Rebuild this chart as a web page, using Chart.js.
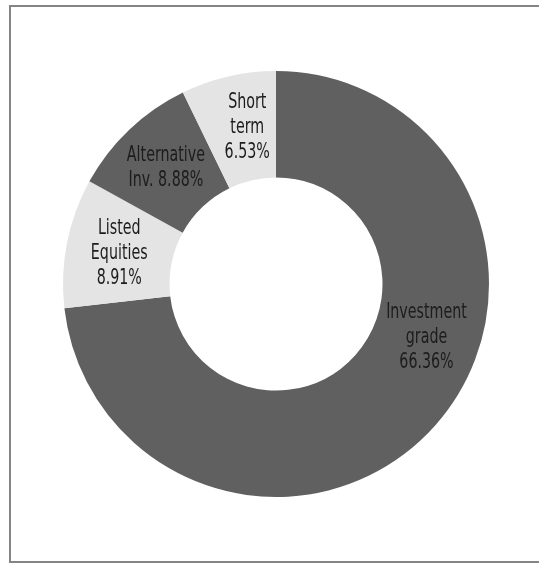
<!DOCTYPE html>
<html>
<head>
<meta charset="utf-8">
<title>Portfolio allocation</title>
<script src="https://cdn.jsdelivr.net/npm/chart.js@4.4.1/dist/chart.umd.min.js"></script>
<style>
  html, body {
    margin: 0;
    padding: 0;
    background: #ffffff;
    overflow: hidden;
  }
  .frame {
    position: absolute;
    left: 9px;
    top: 5px;
    width: 540px;
    height: 554px;
    border: 2px solid #858585;
  }
  #wrap {
    position: absolute;
    left: 0;
    top: 0;
    width: 539px;
    height: 563px;
  }
</style>
</head>
<body>
<div class="frame"></div>
<div id="wrap"><canvas id="canvas"></canvas></div>

<script>
// allocation by asset class (% of portfolio)
const categories = ['Investment grade', 'Listed Equities', 'Alternative Inv.', 'Short term'];
const shares = [66.36, 8.91, 8.88, 6.53];
// how each slice name is broken over lines, {v} is the percentage
const labelLines = [
  ['Investment', 'grade', '{v}'],
  ['Listed', 'Equities', '{v}'],
  ['Alternative', 'Inv. {v}'],
  ['Short', 'term', '{v}']
];

const darkGrey = '#606060';
const lightGrey = '#e4e4e4';

/**
 * Writes the name and percentage inside each slice
 */
const sliceLabels = {
  id: 'sliceLabels',
  afterDatasetsDraw(chart, args, opts) {
    const ctx = chart.ctx;
    const meta = chart.getDatasetMeta(0);
    ctx.save();
    ctx.font = opts.font;
    if ('fontStretch' in ctx) ctx.fontStretch = 'condensed';
    ctx.fillStyle = opts.color;
    ctx.textAlign = 'center';
    ctx.textBaseline = 'middle';
    meta.data.forEach(function(arc, i) {
      const p = arc.getProps(['x', 'y', 'startAngle', 'endAngle', 'innerRadius', 'outerRadius'], true);
      const along = opts.along[i] !== undefined ? opts.along[i] : 0.5;
      const angle = p.startAngle + (p.endAngle - p.startAngle) * along;
      const r = (p.innerRadius + p.outerRadius) / 2;
      const cx = p.x + Math.cos(angle) * r;
      const cy = p.y + Math.sin(angle) * r;
      const value = chart.data.datasets[0].data[i].toFixed(2) + '%';
      const lines = labelLines[i].map(function(l) { return l.replace('{v}', value); });
      const top = cy - (lines.length - 1) * opts.lineHeight / 2;
      lines.forEach(function(line, k) {
        // squeeze horizontally so the face reads as a narrow grotesque
        ctx.save();
        ctx.translate(cx, top + k * opts.lineHeight);
        ctx.scale(opts.squeeze, 1);
        ctx.fillText(line, 0, 0);
        ctx.restore();
      });
    });
    ctx.restore();
  }
};

var canvas = document.getElementById('canvas');
var myChart = new Chart(canvas, {
  type: 'doughnut',
  data: {
    labels: categories,
    datasets: [{
      data: shares,
      backgroundColor: [darkGrey, lightGrey, darkGrey, lightGrey],
      borderWidth: 0
    }]
  },
  options: {
    responsive: true,
    maintainAspectRatio: false,
    animation: false,
    cutout: '50%',
    layout: {
      padding: { left: 63, top: 71, right: 50, bottom: 66 }
    },
    plugins: {
      legend: { display: false },
      tooltip: { enabled: false },
      sliceLabels: {
        font: "22px 'DejaVu Sans', sans-serif",
        color: '#1c1c1c',
        lineHeight: 25,
        squeeze: 0.72,
        along: [0.416, 0.5, 0.5, 0.6]
      }
    }
  },
  plugins: [sliceLabels]
});
</script>
</body>
</html>
